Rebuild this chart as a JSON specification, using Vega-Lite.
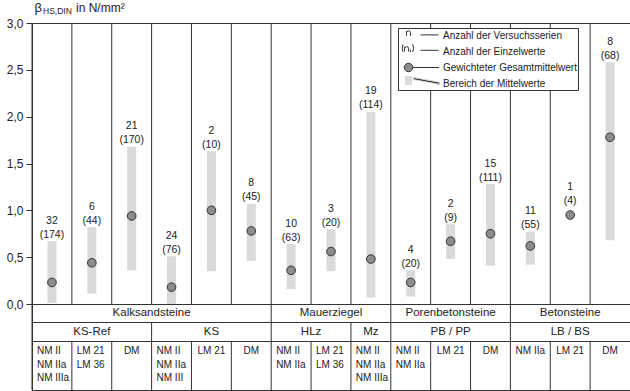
{
  "$schema": "https://vega.github.io/schema/vega-lite/v6.json",
  "autosize": {"type": "pad"},
  "padding": {"left": 5, "top": 0, "right": 0, "bottom": 0},
  "background": "white",
  "bounds": "flush",
  "spacing": 0,
  "datasets": {
    "cols": [
      {"col": 1, "group": "Kalksandsteine", "sub": "KS-Ref", "mortar": ["NM II", "NM IIa", "NM IIIa"], "n": 32, "ni": 174, "mean": 0.23, "lo": 0.01, "hi": 0.67},
      {"col": 2, "group": "Kalksandsteine", "sub": "KS-Ref", "mortar": ["LM 21", "LM 36"], "n": 6, "ni": 44, "mean": 0.44, "lo": 0.11, "hi": 0.82},
      {"col": 3, "group": "Kalksandsteine", "sub": "KS-Ref", "mortar": ["DM"], "n": 21, "ni": 170, "mean": 0.94, "lo": 0.36, "hi": 1.68},
      {"col": 4, "group": "Kalksandsteine", "sub": "KS", "mortar": ["NM II", "NM IIa", "NM III"], "n": 24, "ni": 76, "mean": 0.18, "lo": 0.0, "hi": 0.51},
      {"col": 5, "group": "Kalksandsteine", "sub": "KS", "mortar": ["LM 21"], "n": 2, "ni": 10, "mean": 1.0, "lo": 0.35, "hi": 1.63},
      {"col": 6, "group": "Kalksandsteine", "sub": "KS", "mortar": ["DM"], "n": 8, "ni": 45, "mean": 0.78, "lo": 0.46, "hi": 1.07},
      {"col": 7, "group": "Mauerziegel", "sub": "HLz", "mortar": ["NM II", "NM IIa"], "n": 10, "ni": 63, "mean": 0.36, "lo": 0.16, "hi": 0.64},
      {"col": 8, "group": "Mauerziegel", "sub": "HLz", "mortar": ["LM 21", "LM 36"], "n": 3, "ni": 20, "mean": 0.56, "lo": 0.35, "hi": 0.8},
      {"col": 9, "group": "Mauerziegel", "sub": "Mz", "mortar": ["NM II", "NM IIa", "NM IIIa"], "n": 19, "ni": 114, "mean": 0.48, "lo": 0.07, "hi": 2.05},
      {"col": 10, "group": "Porenbetonsteine", "sub": "PB / PP", "mortar": ["NM II", "NM IIa"], "n": 4, "ni": 20, "mean": 0.23, "lo": 0.08, "hi": 0.36},
      {"col": 11, "group": "Porenbetonsteine", "sub": "PB / PP", "mortar": ["LM 21"], "n": 2, "ni": 9, "mean": 0.67, "lo": 0.48, "hi": 0.85},
      {"col": 12, "group": "Porenbetonsteine", "sub": "PB / PP", "mortar": ["DM"], "n": 15, "ni": 111, "mean": 0.75, "lo": 0.41, "hi": 1.28},
      {"col": 13, "group": "Betonsteine", "sub": "LB / BS", "mortar": ["NM IIa"], "n": 11, "ni": 55, "mean": 0.62, "lo": 0.42, "hi": 0.77},
      {"col": 14, "group": "Betonsteine", "sub": "LB / BS", "mortar": ["LM 21"], "n": 1, "ni": 4, "mean": 0.95, "lo": 0.95, "hi": 0.95},
      {"col": 15, "group": "Betonsteine", "sub": "LB / BS", "mortar": ["DM"], "n": 8, "ni": 68, "mean": 1.78, "lo": 0.68, "hi": 2.58}
    ]
  },
  "vconcat": [
    {
      "width": 598,
      "height": 281,
      "data": {"name": "cols"},
      "layer": [
        {
          "mark": {"type": "rule", "color": "#333333", "strokeWidth": 1},
          "encoding": {
            "x": {"field": "col", "type": "ordinal", "bandPosition": 0,
                  "scale": {"paddingInner": 0, "paddingOuter": 0},
                  "axis": {"orient": "top", "labels": false, "ticks": false, "domain": false, "grid": false,
                           "title": "HS,DIN", "titleFontSize": 8.5, "titleFontWeight": "normal", "titleColor": "#222222",
                           "titleAngle": 0, "titleAlign": "left", "titleBaseline": "alphabetic", "titleX": 10.5, "titleY": -9.5}}
          }
        },
        {
          "mark": {"type": "bar", "width": 9, "color": "#dadada"},
          "encoding": {
            "x": {"field": "col", "type": "ordinal",
                  "axis": {"orient": "bottom", "labels": false, "ticks": false, "domain": false, "grid": false,
                           "title": "in N/mm²", "titleFontSize": 12, "titleFontWeight": "normal", "titleColor": "#222222",
                           "titleAngle": 0, "titleAlign": "left", "titleBaseline": "alphabetic", "titleX": 43.5, "titleY": -293}},
            "y": {"field": "lo", "type": "quantitative", "scale": {"domain": [0, 3], "nice": false, "zero": true},
                  "axis": {"values": [0, 0.5, 1, 1.5, 2, 2.5, 3], "labelExpr": "replace(format(datum.value, '.1f'), '.', ',')",
                           "grid": false, "domain": false, "tickSize": 6, "tickColor": "#333333", "labelFontSize": 12,
                           "labelColor": "#222222", "labelPadding": 3, "labelFlush": false, "labelOverlap": false,
                           "title": "β", "titleFontSize": 13, "titleFontWeight": "normal", "titleColor": "#222222",
                           "titleAngle": 0, "titleAlign": "left", "titleBaseline": "alphabetic", "titleX": 2, "titleY": -12}},
            "y2": {"field": "hi"}
          }
        },
        {
          "mark": {"type": "point", "filled": true, "size": 75, "fill": "#8c8c8c", "stroke": "#333333", "strokeWidth": 1, "opacity": 1},
          "encoding": {
            "x": {"field": "col", "type": "ordinal", "axis": null},
            "y": {"field": "mean", "type": "quantitative"}
          }
        },
        {
          "mark": {"type": "text", "fontSize": 10.5, "color": "#222222", "baseline": "middle",
                   "dy": {"expr": "datum.hi == datum.lo ? -28.5 : -20.5"}},
          "encoding": {
            "x": {"field": "col", "type": "ordinal", "axis": null},
            "y": {"field": "hi", "type": "quantitative"},
            "text": {"field": "n", "type": "quantitative"}
          }
        },
        {
          "mark": {"type": "text", "fontSize": 10.5, "color": "#222222", "baseline": "middle",
                   "dy": {"expr": "datum.hi == datum.lo ? -14.5 : -6.5"},
                   "text": {"expr": "'(' + datum.ni + ')'"}},
          "encoding": {
            "x": {"field": "col", "type": "ordinal", "axis": null},
            "y": {"field": "hi", "type": "quantitative"}
          }
        },
        {
          "data": {"values": []},
          "mark": {"type": "point", "filled": true},
          "encoding": {
            "shape": {"field": "item", "type": "nominal", "title": null,
                      "scale": {"domain": ["Anzahl der Versuchsserien", "Anzahl der Einzelwerte", "Gewichteter Gesamtmittelwert", "Bereich der Mittelwerte"],
                                "range": [
                                  "M-0.33,0.05L-0.33,-0.75M-0.33,-0.5Q-0.2,-0.78 0,-0.78Q0.33,-0.78 0.33,-0.45L0.33,0.05M2,-0.1L5,-0.1M0,-1.25L0,-1.25M0,1.25L0,1.25",
                                  "M-0.9,-1.2Q-1.2,-0.55 -0.9,0.1M-0.65,0L-0.65,-0.8M-0.65,-0.55Q-0.52,-0.83 -0.32,-0.83Q0,-0.83 0,-0.5L0,0M0.3,-0.25L0.3,0.1M0.3,-0.47L0.3,-0.38M0.7,-1.2Q1,-0.55 0.7,0.1M2,-0.2L5,-0.2M0,-1.25L0,-1.25M0,1.25L0,1.25",
                                  "M-0.7,0A0.7,0.7 0 1,1 0.7,0A0.7,0.7 0 1,1 -0.7,0ZM0.7,0L5.1,0M0,-1.25L0,-1.25M0,1.25L0,1.25",
                                  "M-0.5,-1.25L-0.5,0.25M-0.417,-1.25L-0.417,0.25M-0.333,-1.25L-0.333,0.25M-0.25,-1.25L-0.25,0.25M-0.167,-1.25L-0.167,0.25M-0.083,-1.25L-0.083,0.25M0,-1.25L0,0.25M0.083,-1.25L0.083,0.25M0.167,-1.25L0.167,0.25M0.25,-1.25L0.25,0.25M0.333,-1.25L0.333,0.25M0.417,-1.25L0.417,0.25M0.5,-1.25L0.5,0.25M0.8,-1.0L5.2,-0.2L5.2,0.15L0.8,-0.65Z"
                                ]}},
            "fill": {"field": "item", "type": "nominal", "title": null,
                     "scale": {"domain": ["Anzahl der Versuchsserien", "Anzahl der Einzelwerte", "Gewichteter Gesamtmittelwert", "Bereich der Mittelwerte"],
                               "range": ["transparent", "transparent", "#8c8c8c", "#333333"]}},
            "stroke": {"field": "item", "type": "nominal", "title": null,
                       "scale": {"domain": ["Anzahl der Versuchsserien", "Anzahl der Einzelwerte", "Gewichteter Gesamtmittelwert", "Bereich der Mittelwerte"],
                                 "range": ["#333333", "#333333", "#333333", "#d9d9d9"]}}
          }
        }
      ],
      "resolve": {"axis": {"x": "independent"}}
    },
    {
      "width": 598,
      "height": 18,
      "data": {"name": "cols"},
      "layer": [
        {
          "mark": {"type": "text", "fontSize": 11.5, "color": "#222222", "baseline": "middle"},
          "encoding": {
            "x": {"aggregate": "mean", "field": "col", "type": "quantitative", "scale": {"domain": [0.5, 15.5], "nice": false, "zero": false}, "axis": null},
            "text": {"field": "group", "type": "nominal"}
          }
        },
        {
          "transform": [
            {"joinaggregate": [{"op": "min", "field": "col", "as": "first"}], "groupby": ["group"]},
            {"filter": "datum.col == datum.first"}
          ],
          "mark": {"type": "rule", "color": "#333333", "strokeWidth": 1},
          "encoding": {
            "x": {"field": "col", "type": "ordinal", "bandPosition": 0,
                  "scale": {"domain": [1, 2, 3, 4, 5, 6, 7, 8, 9, 10, 11, 12, 13, 14, 15], "paddingInner": 0, "paddingOuter": 0}, "axis": null}
          }
        }
      ],
      "resolve": {"scale": {"x": "independent"}}
    },
    {
      "width": 598,
      "height": 19,
      "data": {"name": "cols"},
      "layer": [
        {
          "mark": {"type": "text", "fontSize": 11.5, "color": "#222222", "baseline": "middle"},
          "encoding": {
            "x": {"aggregate": "mean", "field": "col", "type": "quantitative", "scale": {"domain": [0.5, 15.5], "nice": false, "zero": false}, "axis": null},
            "text": {"field": "sub", "type": "nominal"}
          }
        },
        {
          "transform": [
            {"joinaggregate": [{"op": "min", "field": "col", "as": "first"}], "groupby": ["sub"]},
            {"filter": "datum.col == datum.first"}
          ],
          "mark": {"type": "rule", "color": "#333333", "strokeWidth": 1},
          "encoding": {
            "x": {"field": "col", "type": "ordinal", "bandPosition": 0,
                  "scale": {"domain": [1, 2, 3, 4, 5, 6, 7, 8, 9, 10, 11, 12, 13, 14, 15], "paddingInner": 0, "paddingOuter": 0}, "axis": null}
          }
        }
      ],
      "resolve": {"scale": {"x": "independent"}}
    },
    {
      "width": 598,
      "height": 49,
      "data": {"name": "cols"},
      "layer": [
        {
          "mark": {"type": "rule", "color": "#333333", "strokeWidth": 1},
          "encoding": {
            "x": {"field": "col", "type": "ordinal", "bandPosition": 0, "scale": {"paddingInner": 0, "paddingOuter": 0}, "axis": null}
          }
        },
        {
          "mark": {"type": "text", "fontSize": 10, "lineHeight": 13.7, "color": "#222222", "baseline": "top", "dy": -19.5,
                   "align": {"expr": "length(datum.mortar) > 1 ? 'left' : 'center'"},
                   "dx": {"expr": "length(datum.mortar) > 1 ? -15 : 0"}},
          "encoding": {
            "x": {"field": "col", "type": "ordinal", "axis": null},
            "text": {"field": "mortar"}
          }
        }
      ]
    }
  ],
  "config": {
    "font": "Liberation Sans",
    "view": {"stroke": "#333333", "strokeWidth": 1},
    "axis": {"labelFont": "Liberation Sans", "titleFont": "Liberation Sans"},
    "legend": {
      "orient": "none", "legendX": 366, "legendY": 5, "padding": 1, "rowPadding": -8,
      "symbolSize": 144, "symbolStrokeWidth": 1, "symbolOffset": 3, "labelOffset": 28,
      "labelFontSize": 10, "labelColor": "#222222", "labelFont": "Liberation Sans", "labelLimit": 250,
      "strokeColor": "#333333", "fillColor": "white", "symbolOpacity": 1
    }
  }
}
